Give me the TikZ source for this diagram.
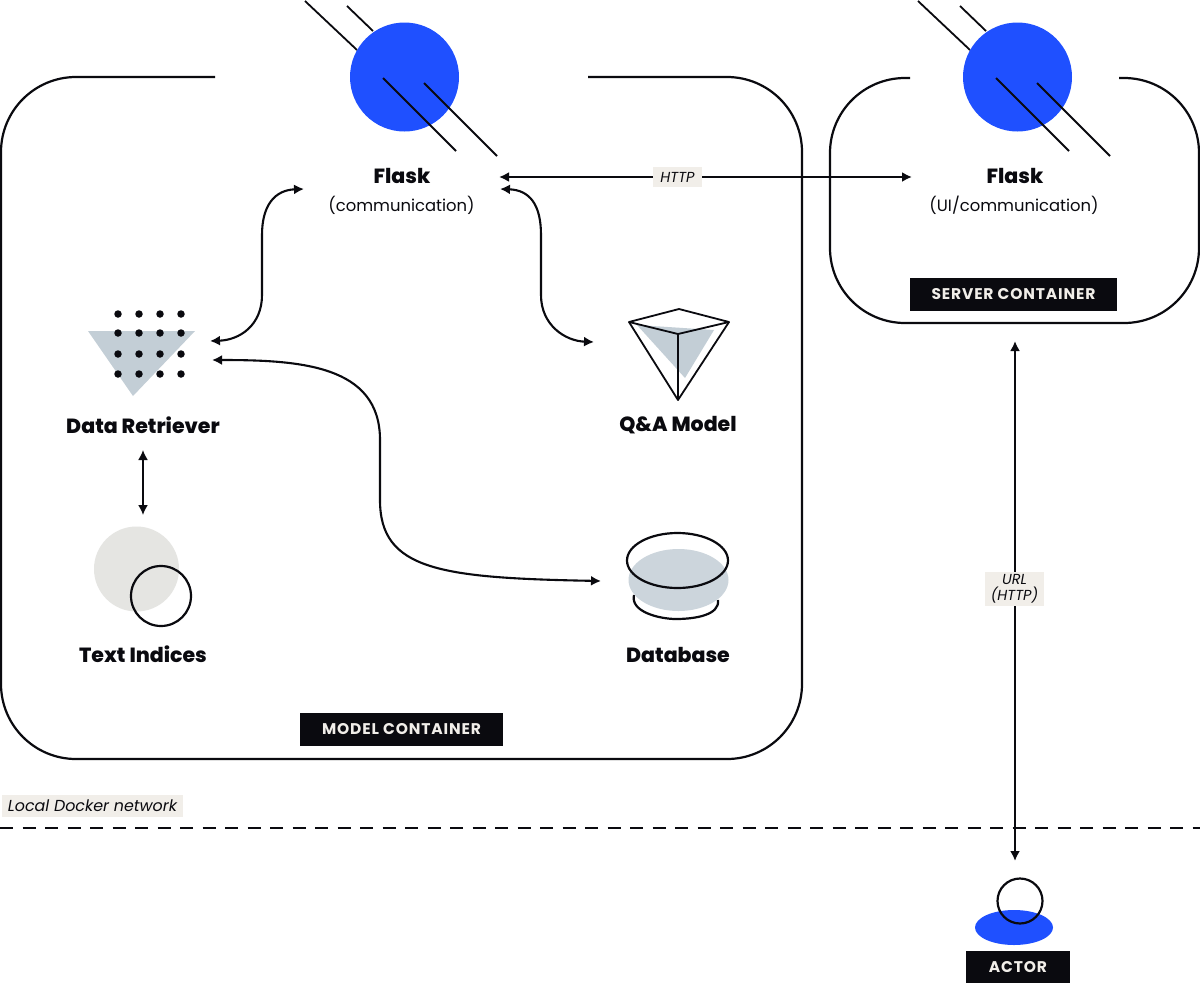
\documentclass[tikz,border=0pt]{standalone}
\usepackage{fontspec}
\setmainfont{Poppins}[BoldFont=Poppins ExtraBold]
\newfontfamily\badgefont{Poppins}[BoldFont=Poppins Bold,LetterSpace=5.5]
\usetikzlibrary{arrows.meta}
\definecolor{flaskblue}{HTML}{1F50FF}
\definecolor{iconblue}{HTML}{C3CED6}
\definecolor{paleshade}{HTML}{E5E5E2}
\definecolor{tagfill}{HTML}{F1EEE9}
\definecolor{ink}{HTML}{0A0A0F}
\tikzset{
  x=1pt,y=-1pt,
  line/.style={draw=ink,line width=2.2pt},
  thin line/.style={draw=ink,line width=1.8pt},
  link/.style={draw=ink,line width=2.1pt,{Latex[length=10pt,width=10pt]}-{Latex[length=10pt,width=10pt]}},
  title/.style={font=\bfseries\fontsize{20.5}{24}\selectfont,text=ink,inner sep=0pt},
  subtitle/.style={font=\fontsize{16.4}{20}\selectfont,text=ink,inner sep=0pt},
  badge/.style={fill=ink,text=tagfill,font=\badgefont\bfseries\fontsize{15.5}{18}\selectfont,inner sep=0pt},
  tag/.style={fill=tagfill,text=ink,font=\itshape\fontsize{14.5}{16.5}\selectfont,inner sep=0pt,align=center},
  dotmark/.style={circle,fill=ink,minimum size=7.5pt,inner sep=0pt},
}
\begin{document}
\begin{tikzpicture}
\useasboundingbox (0,0) rectangle (1200,983);
\fill[white] (0,0) rectangle (1200,983);
% containers
\draw[line,rounded corners=75pt] (215,77) -- (1,77) -- (1,759) -- (802,759) -- (802,77) -- (588,77);
\draw[line,rounded corners=75pt] (910,78) -- (830,78) -- (830,323) -- (1199,323) -- (1199,78) -- (1119,78);
% flask icons
\foreach \dx in {0,613}{
  \begin{scope}[xshift=\dx pt]
    \draw[thin line] (305,1) -- (357,50);
    \draw[thin line] (347,6) -- (373,31);
    \fill[flaskblue] (404.5,77) circle[radius=54.5pt];
    \draw[thin line] (383,78) -- (456,151);
    \draw[thin line] (424,83) -- (497,156);
  \end{scope}
}
\node[title] (flaskMtitle) at (402,176) {Flask};
\node[subtitle] (flaskMsub) at (401.5,205.5) {(communication)};
\node[title] (flaskStitle) at (1015,176) {Flask};
\node[subtitle] (flaskSsub) at (1014,205.5) {(UI/communication)};
% retriever icon
\fill[iconblue] (88,331) -- (195,331) -- (133,396) -- cycle;
\foreach \px in {118,139,160,181}\foreach \py in {314,333,354,374}{
  \node[dotmark] (dot\px\py) at (\px,\py) {};
}
\node[title] (retrieverLabel) at (143,425.5) {Data Retriever};
% QA icon
\fill[iconblue] (637,325) -- (714,330) -- (685,378) -- cycle;
\draw[thin line,line join=round] (629,322) -- (679,309) -- (729,322) -- (678,334) -- cycle;
\draw[thin line,line join=round] (629,322) -- (678,400) -- (729,322);
\draw[thin line] (678,334) -- (678,400);
\node[title] (qaLabel) at (678,425.5) {Q\&A Model};
% database icon
\draw[line] (634,595) .. controls (630,612) and (660,619) .. (676,619) .. controls (695,619) and (720,615) .. (718,600);
\fill[iconblue!85!white] (678.5,580) ellipse[x radius=50pt,y radius=31pt];
\draw[line] (677.5,560.5) ellipse[x radius=50.5pt,y radius=27.5pt];
\node[title] (dbLabel) at (678,654.5) {Database};
% indices icon
\fill[paleshade] (136.5,569) circle[radius=42.5pt];
\draw[line] (161,596) circle[radius=30pt];
\node[title] (indicesLabel) at (143,654.5) {Text Indices};
% actor icon
\fill[flaskblue] (1014,927.5) ellipse[x radius=39pt,y radius=17.5pt];
\draw[line] (1020,901) circle[radius=22.5pt];
% ports
\coordinate (flaskMwest) at (304,189);
\coordinate (flaskMeastA) at (499,177);
\coordinate (flaskMeastB) at (500,189);
\coordinate (flaskSwest) at (912,177);
\coordinate (retrieverA) at (210,341);
\coordinate (retrieverB) at (212,360);
\coordinate (retrieverC) at (143,450);
\coordinate (indicesTop) at (143,515);
\coordinate (qaWest) at (594,342);
\coordinate (dbWest) at (601,581);
\coordinate (serverBottom) at (1015,341);
\coordinate (actorTop) at (1015,861);
% connectors
\draw[link] (retrieverA) .. controls (240,340) and (262,325) .. (262,295) -- (262,235) .. controls (262,205) and (275,190) .. (flaskMwest);
\draw[link] (flaskMeastB) .. controls (530,190) and (541,205) .. (541,235) -- (541,295) .. controls (541,325) and (565,341) .. (qaWest);
\draw[link] (retrieverB) .. controls (300,360) and (380,365) .. (380,440) -- (380,500) .. controls (380,570) and (440,578) .. (dbWest);
\draw[link] (flaskMeastA) -- (flaskSwest);
\draw[link,line width=1.7pt] (retrieverC) -- (indicesTop);
\draw[link] (serverBottom) -- (actorTop);
% tags
\node[tag,minimum width=49pt,minimum height=20pt] (httpTag) at (677.5,177) {HTTP};
\node[tag,minimum width=59pt,minimum height=34pt] (urlTag) at (1014.5,589) {URL\\(HTTP)};
\node[tag,minimum width=181pt,minimum height=22pt,font=\itshape\fontsize{15.9}{18}\selectfont] (dockerTag) at (92.5,805.5) {Local Docker network};
% dashed boundary
\coordinate (netLeft) at (0,828);
\coordinate (netRight) at (1200,828);
\draw[line,dash pattern=on 13pt off 9.5pt] (netLeft) -- (netRight);
% badges
\node[badge,minimum width=203pt,minimum height=33pt] (modelBadge) at (401.5,729.5) {MODEL CONTAINER};
\node[badge,minimum width=207pt,minimum height=33pt] (serverBadge) at (1013.5,294.5) {SERVER CONTAINER};
\node[badge,minimum width=104pt,minimum height=32pt] (actorBadge) at (1018,967) {ACTOR};
\end{tikzpicture}
\end{document}
